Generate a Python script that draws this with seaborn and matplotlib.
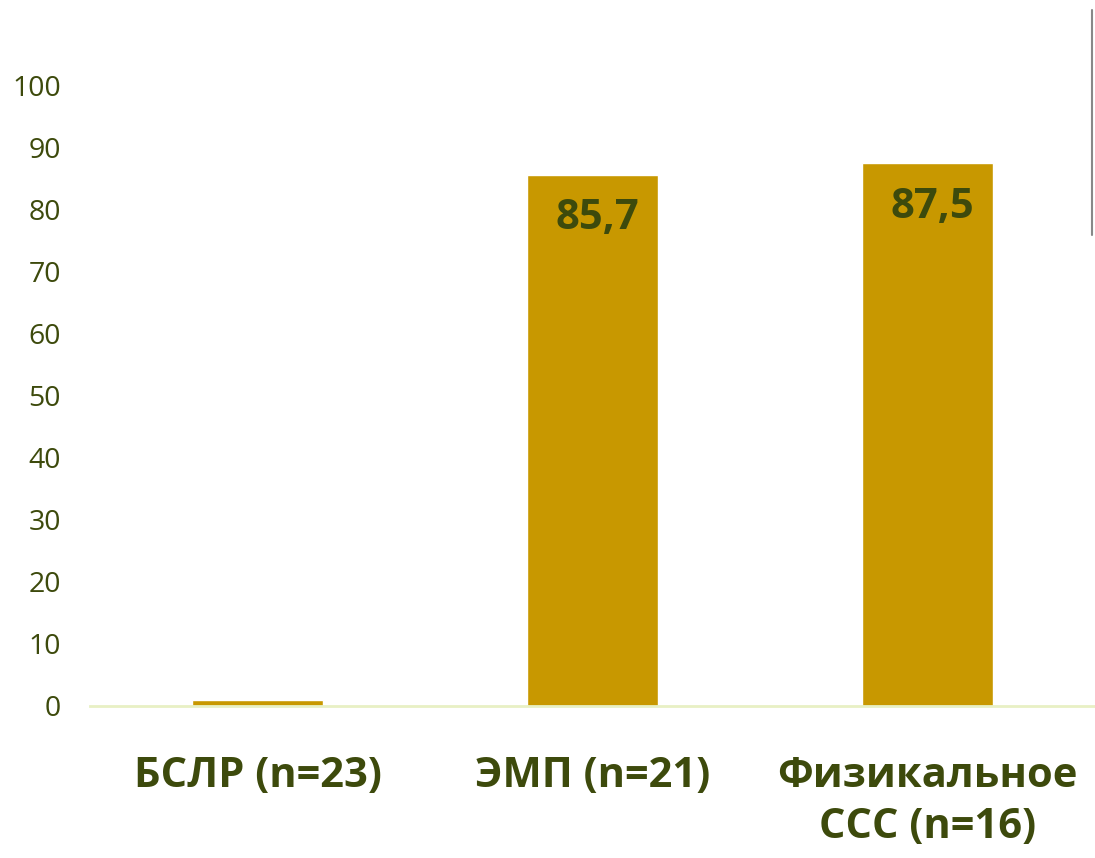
import matplotlib
matplotlib.use("Agg")
import matplotlib.pyplot as plt
import seaborn as sns
import pandas as pd

categories = ["БСЛР (n=23)", "ЭМП (n=21)", "Физикальное\nССС (n=16)"]
values = [1.0, 85.7, 87.5]
value_labels = ["", "85,7", "87,5"]
yticks = [0, 10, 20, 30, 40, 50, 60, 70, 80, 90, 100]

bar_color = "#C89800"
text_color = "#3D4A0C"

sns.set_style("white")
plt.rcParams["font.family"] = ["Open Sans", "DejaVu Sans"]

df = pd.DataFrame({"cat": categories, "val": values})

fig = plt.figure(figsize=(10.95, 8.58), dpi=100)
ax = fig.add_axes([0.0822, 0.1772, 0.9178, 0.7226])

sns.barplot(data=df, x="cat", y="val", color=bar_color, saturation=1,
            width=0.39, ax=ax)

ax.set_ylim(0, 100)
ax.set_xlim(-0.5, 2.5)
ax.set_yticks(yticks)
ax.set_yticklabels([str(t) for t in yticks], fontsize=20.5, color=text_color)
ax.tick_params(axis="y", length=0, pad=21)
ax.tick_params(axis="x", length=0, pad=36)
for lab in ax.get_xticklabels():
    lab.set_fontsize(30)
    lab.set_fontweight("bold")
    lab.set_color(text_color)
    lab.set_linespacing(1.33)
ax.set_xlabel("")
ax.set_ylabel("")

for s in ["top", "right", "left"]:
    ax.spines[s].set_visible(False)
ax.spines["bottom"].set_color("#E8F0C4")
ax.spines["bottom"].set_linewidth(2)

for i, (v, lab) in enumerate(zip(values, value_labels)):
    if lab:
        ax.text(i + 0.015, v - 7.1, lab, ha="center", va="center", fontsize=30,
                fontweight="bold", color=text_color)

# thin grey vertical line at the top right corner of the slide
fig.add_artist(plt.Line2D([1092 / 1095, 1092 / 1095], [1 - 10 / 858, 1 - 235 / 858],
                          transform=fig.transFigure, color="#888888", lw=1.5))

fig.savefig("out.png", dpi=100)
